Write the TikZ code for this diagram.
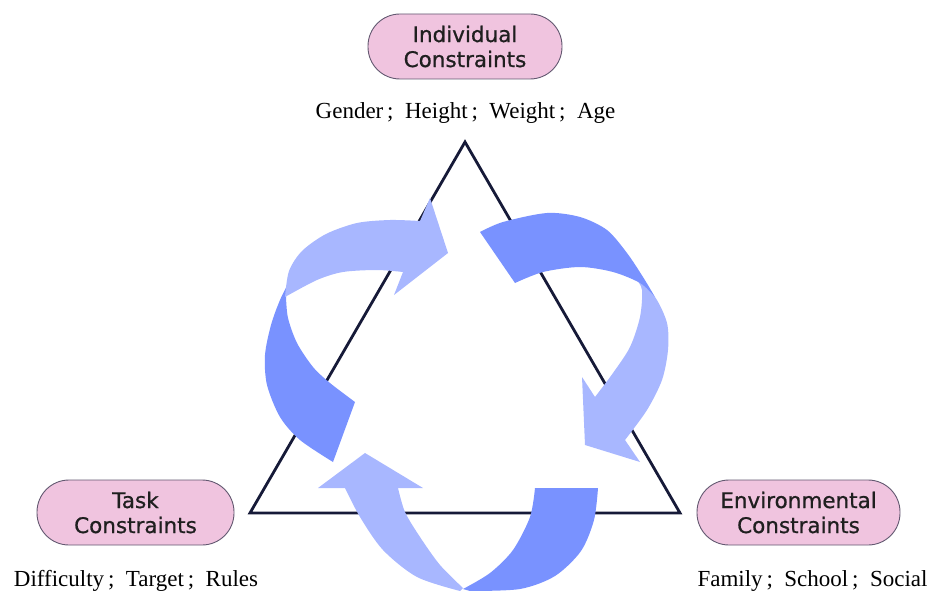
\documentclass[tikz,border=0pt]{standalone}
\usepackage{fontspec}
\setmainfont{Liberation Serif}
\newfontfamily\pillfont[FakeBold=0.8]{DejaVu Sans}
\definecolor{pillpink}{RGB}{240,196,223}
\definecolor{pillrim}{RGB}{98,88,112}
\definecolor{triline}{RGB}{22,26,56}
\definecolor{ribdark}{RGB}{121,146,255}
\definecolor{riblight}{RGB}{168,183,255}
\begin{document}
\begin{tikzpicture}[
  x=1pt, y=-1pt,
  pill/.style={draw=pillrim,line width=0.9pt,fill=pillpink,rounded corners=32pt,minimum height=65pt,
    align=center,inner sep=0pt,font=\pillfont\fontsize{21.5}{25}\selectfont,text=black!88},
  factors/.style={anchor=base,inner sep=0pt,font=\fontsize{23}{27}\selectfont},
  tri/.style={draw=triline,line width=2.8pt,line join=miter},
  dark/.style={fill=ribdark},
  light/.style={fill=riblight},
]
  \useasboundingbox (0,0) rectangle (928,591);
  \coordinate (apex) at (465,142);
  \coordinate (bl) at (250,513);
  \coordinate (br) at (680,513);
  \draw[tri] (apex) -- (bl) -- (br) -- cycle;
  \fill[dark] plot[smooth] coordinates {(291,278) (280,300) (271,325) (265,355) (267,385) (280,417) (300,440) (333,462)}
    -- (355,402) -- plot[smooth] coordinates {(355,402) (330,383) (313,367) (297,343) (288,318) (286,297)} -- cycle;
  \fill[light] (420,221) -- (430,198) -- (448,253) -- (394,295) -- (403,272)
    -- plot[smooth] coordinates {(403,272) (377,270) (343,272) (317,280) (285,297)}
    -- plot[smooth] coordinates {(285,297) (289,271) (302,251) (326,234) (357,223) (390,220) (420,221)} -- cycle;
  \fill[light] plot[smooth] coordinates {(636,279) (655,297) (667,323) (668,350) (662,380) (647,410) (625,440)}
    -- (640,462) -- (585,445) -- (582,377) -- (595,397)
    -- plot[smooth] coordinates {(595,397) (613,373) (630,347) (640,317) (642,290) (636,279)} -- cycle;
  \fill[dark] (480,232) -- (515,283)
    -- plot[smooth] coordinates {(515,283) (543,272) (580,267) (613,272) (640,283) (655,297)}
    -- plot[smooth] coordinates {(655,297) (643,277) (627,253) (607,230) (580,217) (547,213) (503,222) (480,232)} -- cycle;
  \fill[light] (318,488) -- (365,453) -- (423,488) -- (398,488)
    -- plot[smooth] coordinates {(398,488) (405,512) (420,537) (440,565) (463,588)}
    -- (460,591) -- plot[smooth] coordinates {(460,591) (417,577) (383,550) (360,517) (345,488)} -- cycle;
  \fill[dark] (535,488) -- (598,488)
    -- plot[smooth] coordinates {(598,488) (594,520) (581,551) (555,576) (520,589) (470,591)}
    -- (463,589) -- plot[smooth] coordinates {(463,589) (490,573) (513,550) (530,517) (535,488)} -- cycle;
  \node[pill,minimum width=194pt] (indiv) at (465,46.5) {Individual\\Constraints};
  \node[pill,minimum width=197pt] (task) at (135.5,512.5) {Task\\Constraints};
  \node[pill,minimum width=203pt] (env) at (798.5,512.5) {Environmental\\Constraints};
  \node[factors] (indivlbl) at (465.5,118.5) {Gender\,; \ Height\,; \ Weight\,; \ Age};
  \node[factors] (tasklbl) at (136,586.5) {Difficulty\,; \ Target\,; \ Rules};
  \node[factors] (envlbl) at (812.5,586.5) {Family\,; \ School\,; \ Social};
\end{tikzpicture}
\end{document}
